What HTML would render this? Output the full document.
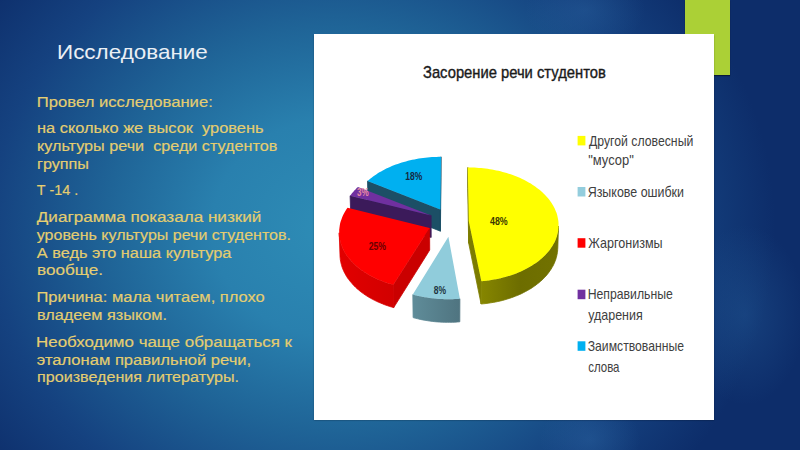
<!DOCTYPE html>
<html><head><meta charset="utf-8">
<style>
html,body{margin:0;padding:0;}
body{width:800px;height:450px;overflow:hidden;position:relative;
background:
 radial-gradient(ellipse 60px 90px at 745px 315px, rgba(40,100,160,0.35), rgba(40,100,160,0) 100%),
 radial-gradient(ellipse 50px 40px at 590px 440px, rgba(50,110,170,0.35), rgba(50,110,170,0) 100%),
 radial-gradient(ellipse 60px 40px at 585px 10px, rgba(50,110,170,0.3), rgba(50,110,170,0) 100%),
 radial-gradient(ellipse 440px 390px at 335px 228px, #2E8DB6 0%, #2980AE 28%, #1F6497 52%, #154280 78%, #0D2D6A 100%);}
.green{position:absolute;left:685px;top:0;width:45px;height:75px;background:#ABD036;box-shadow:0 1px 1px rgba(0,0,0,.45);}
.box{position:absolute;left:314px;top:34px;width:400px;height:385.5px;background:#fff;box-shadow:0 0.5px 1.5px rgba(0,0,0,.4);}
svg{position:absolute;left:0;top:0;}
text{font-family:"Liberation Sans",sans-serif;white-space:pre;}
.h{font-size:20.8px;fill:#EAEFF5;}
.b{font-size:14.9px;fill:#E6CF74;stroke:#DCC262;stroke-width:0.2px;}
.ti{font-size:17px;fill:#1A1A1A;stroke:#1A1A1A;stroke-width:0.4px;}
.lg{font-size:14.2px;fill:#404040;}
.pl{font-size:10.5px;font-weight:bold;}
</style></head><body>
<div class="green"></div>
<div class="box"></div>
<svg width="800" height="450" viewBox="0 0 800 450">
<defs>
<linearGradient id="g0" gradientUnits="userSpaceOnUse" x1="481" y1="0" x2="559" y2="0"><stop offset="0" stop-color="#868600"/><stop offset="0.5" stop-color="#6D6D00"/><stop offset="1" stop-color="#727200"/></linearGradient>
<linearGradient id="g1" gradientUnits="userSpaceOnUse" x1="413" y1="0" x2="460" y2="0"><stop offset="0" stop-color="#5F8C99"/><stop offset="1" stop-color="#4F7480"/></linearGradient>
<linearGradient id="g2" gradientUnits="userSpaceOnUse" x1="339" y1="0" x2="394" y2="0"><stop offset="0" stop-color="#E20000"/><stop offset="1" stop-color="#D20000"/></linearGradient>
<linearGradient id="g3" gradientUnits="userSpaceOnUse" x1="0" y1="0" x2="1" y2="0"><stop offset="0" stop-color="#3B1A5A"/></linearGradient>
<linearGradient id="g4" gradientUnits="userSpaceOnUse" x1="0" y1="0" x2="1" y2="0"><stop offset="0" stop-color="#1C4F66"/></linearGradient>
</defs>
<path d="M440.4,209.4 L367.5,181.1 L368.0,202.5 L440.4,231.2Z" fill="#1C4F66" stroke="#1C4F66" stroke-width="0.8" stroke-linejoin="round"/>
<path d="M440.4,209.4 L441.0,156.8 L441.0,177.8 L440.4,231.2Z" fill="#1C4F66" stroke="#1C4F66" stroke-width="0.8" stroke-linejoin="round"/>
<path d="M440.4,209.4 L367.5,181.1 L368.8,180.0 L370.2,178.8 L371.6,177.7 L373.1,176.5 L374.6,175.4 L376.2,174.4 L377.8,173.3 L379.4,172.3 L381.1,171.4 L382.8,170.4 L384.6,169.5 L386.3,168.6 L388.2,167.7 L390.0,166.9 L391.9,166.1 L393.8,165.3 L395.8,164.6 L397.7,163.9 L399.7,163.2 L401.8,162.5 L403.8,161.9 L405.9,161.4 L408.0,160.8 L410.1,160.3 L412.2,159.8 L414.4,159.4 L416.5,159.0 L418.7,158.6 L420.9,158.3 L423.1,158.0 L425.3,157.7 L427.5,157.5 L429.7,157.3 L432.0,157.1 L434.2,157.0 L436.5,156.9 L438.7,156.8 L441.0,156.8Z" fill="#00B0F0"/>
<path d="M431.1,215.5 L350.1,195.8 L350.8,217.3 L431.2,237.4Z" fill="#3B1A5A" stroke="#3B1A5A" stroke-width="0.8" stroke-linejoin="round"/>
<path d="M431.1,215.5 L350.1,195.8 L351.1,194.4 L352.1,193.1 L353.2,191.9 L354.3,190.6 L355.5,189.4 L356.7,188.1 L358.0,186.9Z" fill="#7030A0"/>
<path d="M468.8,221.2 L467.8,167.4 L467.7,188.6 L468.7,243.2Z" fill="#7C7C00" stroke="#7C7C00" stroke-width="0.8" stroke-linejoin="round"/>
<path d="M468.8,221.2 L481.4,281.2 L481.1,304.0 L468.7,243.2Z" fill="#7C7C00" stroke="#7C7C00" stroke-width="0.8" stroke-linejoin="round"/>
<path d="M558.5,226.0 L558.5,227.5 L558.3,229.0 L558.2,230.5 L557.9,232.0 L557.6,233.5 L557.2,235.0 L556.8,236.5 L556.3,238.0 L555.7,239.5 L555.1,240.9 L554.4,242.4 L553.6,243.8 L552.8,245.3 L551.9,246.7 L551.0,248.1 L550.0,249.5 L548.9,250.9 L547.8,252.2 L546.6,253.6 L545.3,254.9 L544.0,256.2 L542.7,257.5 L541.3,258.7 L539.8,260.0 L538.3,261.2 L536.7,262.4 L535.1,263.5 L533.4,264.6 L531.7,265.7 L529.9,266.8 L528.1,267.8 L526.2,268.8 L524.3,269.8 L522.3,270.8 L520.3,271.7 L518.3,272.5 L516.2,273.4 L514.1,274.2 L511.9,274.9 L509.7,275.7 L507.5,276.3 L505.2,277.0 L502.9,277.6 L500.6,278.2 L498.3,278.7 L495.9,279.2 L493.5,279.6 L491.1,280.0 L488.7,280.4 L486.3,280.7 L483.8,280.9 L481.4,281.2 L481.1,304.0 L483.6,303.8 L486.0,303.5 L488.4,303.2 L490.8,302.8 L493.2,302.4 L495.6,302.0 L497.9,301.5 L500.3,301.0 L502.6,300.4 L504.8,299.8 L507.1,299.1 L509.3,298.4 L511.4,297.7 L513.6,296.9 L515.7,296.1 L517.8,295.3 L519.8,294.4 L521.8,293.5 L523.7,292.5 L525.6,291.5 L527.5,290.5 L529.3,289.4 L531.1,288.4 L532.8,287.2 L534.5,286.1 L536.1,284.9 L537.6,283.7 L539.2,282.5 L540.6,281.3 L542.0,280.0 L543.4,278.7 L544.6,277.4 L545.9,276.0 L547.1,274.7 L548.2,273.3 L549.2,271.9 L550.2,270.5 L551.2,269.0 L552.0,267.6 L552.9,266.1 L553.6,264.7 L554.3,263.2 L554.9,261.7 L555.5,260.2 L556.0,258.7 L556.4,257.2 L556.8,255.7 L557.1,254.2 L557.4,252.6 L557.6,251.1 L557.7,249.6 L557.8,248.1Z" fill="url(#g0)" stroke="url(#g0)" stroke-width="0.8" stroke-linejoin="round"/>
<path d="M468.8,221.2 L467.8,167.4 L470.1,167.4 L472.3,167.5 L474.5,167.6 L476.7,167.7 L478.9,167.9 L481.1,168.0 L483.3,168.3 L485.5,168.5 L487.7,168.8 L489.9,169.2 L492.0,169.5 L494.2,169.9 L496.3,170.4 L498.4,170.8 L500.5,171.3 L502.6,171.9 L504.7,172.4 L506.7,173.0 L508.7,173.7 L510.7,174.3 L512.7,175.0 L514.6,175.7 L516.6,176.5 L518.4,177.3 L520.3,178.1 L522.1,179.0 L523.9,179.8 L525.7,180.7 L527.4,181.7 L529.1,182.7 L530.8,183.6 L532.4,184.7 L534.0,185.7 L535.5,186.8 L537.0,187.9 L538.4,189.0 L539.9,190.1 L541.2,191.3 L542.6,192.5 L543.8,193.7 L545.1,195.0 L546.2,196.2 L547.4,197.5 L548.5,198.8 L549.5,200.1 L550.5,201.4 L551.4,202.8 L552.3,204.2 L553.1,205.5 L553.9,206.9 L554.6,208.3 L555.2,209.8 L555.8,211.2 L556.4,212.6 L556.9,214.1 L557.3,215.6 L557.6,217.0 L557.9,218.5 L558.2,220.0 L558.4,221.5 L558.5,223.0 L558.5,224.5 L558.5,226.0 L558.5,227.5 L558.3,229.0 L558.2,230.5 L557.9,232.0 L557.6,233.5 L557.2,235.0 L556.8,236.5 L556.3,238.0 L555.7,239.5 L555.1,240.9 L554.4,242.4 L553.6,243.8 L552.8,245.3 L551.9,246.7 L551.0,248.1 L550.0,249.5 L548.9,250.9 L547.8,252.2 L546.6,253.6 L545.3,254.9 L544.0,256.2 L542.7,257.5 L541.3,258.7 L539.8,260.0 L538.3,261.2 L536.7,262.4 L535.1,263.5 L533.4,264.6 L531.7,265.7 L529.9,266.8 L528.1,267.8 L526.2,268.8 L524.3,269.8 L522.3,270.8 L520.3,271.7 L518.3,272.5 L516.2,273.4 L514.1,274.2 L511.9,274.9 L509.7,275.7 L507.5,276.3 L505.2,277.0 L502.9,277.6 L500.6,278.2 L498.3,278.7 L495.9,279.2 L493.5,279.6 L491.1,280.0 L488.7,280.4 L486.3,280.7 L483.8,280.9 L481.4,281.2Z" fill="#FFFF00"/>
<path d="M429.6,228.0 L393.3,284.7 L393.7,307.6 L429.7,250.1Z" fill="#CA0000" stroke="#CA0000" stroke-width="0.8" stroke-linejoin="round"/>
<path d="M393.3,284.7 L391.0,284.1 L388.7,283.4 L386.5,282.7 L384.3,281.9 L382.1,281.1 L380.0,280.2 L377.9,279.4 L375.9,278.5 L373.9,277.5 L371.9,276.5 L370.0,275.5 L368.2,274.4 L366.4,273.3 L364.6,272.2 L362.9,271.1 L361.2,269.9 L359.6,268.7 L358.1,267.5 L356.6,266.2 L355.2,264.9 L353.8,263.6 L352.5,262.3 L351.2,261.0 L350.0,259.6 L348.9,258.2 L347.8,256.8 L346.8,255.4 L345.8,253.9 L344.9,252.5 L344.1,251.0 L343.3,249.5 L342.6,248.1 L342.0,246.6 L341.4,245.0 L340.9,243.5 L340.5,242.0 L340.1,240.5 L339.8,239.0 L339.5,237.4 L339.3,235.9 L339.2,234.3 L339.2,232.8 L340.0,255.0 L340.0,256.5 L340.2,258.1 L340.3,259.6 L340.6,261.2 L340.9,262.7 L341.3,264.3 L341.7,265.8 L342.2,267.4 L342.8,268.9 L343.4,270.4 L344.1,271.9 L344.9,273.4 L345.7,274.9 L346.6,276.4 L347.5,277.9 L348.6,279.3 L349.6,280.7 L350.8,282.1 L352.0,283.5 L353.2,284.9 L354.5,286.2 L355.9,287.6 L357.3,288.9 L358.8,290.1 L360.3,291.4 L361.9,292.6 L363.6,293.8 L365.3,295.0 L367.0,296.1 L368.8,297.2 L370.7,298.3 L372.5,299.3 L374.5,300.3 L376.5,301.3 L378.5,302.2 L380.6,303.1 L382.7,303.9 L384.8,304.8 L387.0,305.5 L389.2,306.3 L391.5,307.0 L393.7,307.6Z" fill="url(#g2)" stroke="url(#g2)" stroke-width="0.8" stroke-linejoin="round"/>
<path d="M429.6,228.0 L393.3,284.7 L391.0,284.1 L388.7,283.4 L386.5,282.7 L384.3,281.9 L382.1,281.1 L380.0,280.2 L377.9,279.4 L375.9,278.5 L373.9,277.5 L371.9,276.5 L370.0,275.5 L368.2,274.4 L366.4,273.3 L364.6,272.2 L362.9,271.1 L361.2,269.9 L359.6,268.7 L358.1,267.5 L356.6,266.2 L355.2,264.9 L353.8,263.6 L352.5,262.3 L351.2,261.0 L350.0,259.6 L348.9,258.2 L347.8,256.8 L346.8,255.4 L345.8,253.9 L344.9,252.5 L344.1,251.0 L343.3,249.5 L342.6,248.1 L342.0,246.6 L341.4,245.0 L340.9,243.5 L340.5,242.0 L340.1,240.5 L339.8,239.0 L339.5,237.4 L339.3,235.9 L339.2,234.3 L339.2,232.8 L339.2,231.3 L339.2,229.7 L339.4,228.2 L339.6,226.7 L339.8,225.2 L340.1,223.6 L340.5,222.1 L341.0,220.6 L341.5,219.2 L342.0,217.7 L342.6,216.2 L343.3,214.8 L344.1,213.3 L344.8,211.9 L345.7,210.5 L346.6,209.1 L347.6,207.7Z" fill="#FF0000"/>
<path d="M459.9,298.7 L457.4,298.9 L454.9,299.1 L452.3,299.2 L449.8,299.2 L447.3,299.2 L444.7,299.2 L442.2,299.1 L439.7,299.0 L437.2,298.8 L434.7,298.6 L432.2,298.3 L429.7,298.0 L427.2,297.6 L424.8,297.2 L422.3,296.8 L419.9,296.3 L417.5,295.8 L415.2,295.2 L412.8,294.6 L413.1,317.6 L415.5,318.3 L417.8,318.8 L420.2,319.4 L422.6,319.9 L425.0,320.3 L427.4,320.7 L429.9,321.1 L432.3,321.4 L434.8,321.7 L437.3,321.9 L439.8,322.1 L442.3,322.2 L444.8,322.3 L447.3,322.3 L449.8,322.3 L452.3,322.3 L454.8,322.2 L457.3,322.0 L459.8,321.8Z" fill="url(#g1)" stroke="url(#g1)" stroke-width="0.8" stroke-linejoin="round"/>
<path d="M448.4,236.8 L459.9,298.7 L457.4,298.9 L454.9,299.1 L452.3,299.2 L449.8,299.2 L447.3,299.2 L444.7,299.2 L442.2,299.1 L439.7,299.0 L437.2,298.8 L434.7,298.6 L432.2,298.3 L429.7,298.0 L427.2,297.6 L424.8,297.2 L422.3,296.8 L419.9,296.3 L417.5,295.8 L415.2,295.2 L412.8,294.6Z" fill="#90CCDB"/>

<text class="pl" x="490" y="225" textLength="17.7" lengthAdjust="spacingAndGlyphs" style="fill:#3C3A00">48%</text>
<text class="pl" x="433.7" y="294" textLength="12.3" lengthAdjust="spacingAndGlyphs" style="fill:#1E3440">8%</text>
<text class="pl" x="368.7" y="249.7" textLength="17.3" lengthAdjust="spacingAndGlyphs" style="fill:#6A0000">25%</text>
<text class="pl" x="357" y="196" textLength="11.7" lengthAdjust="spacingAndGlyphs" style="fill:#E88AA0">3%</text>
<text class="pl" x="405.3" y="180.3" textLength="17" lengthAdjust="spacingAndGlyphs" style="fill:#16283E">18%</text>
<rect x="577.6" y="135.9" width="7.8" height="9.5" fill="#FFFF00"/>
<rect x="577.6" y="187.0" width="7.8" height="9.5" fill="#93CDDD"/>
<rect x="577.6" y="238.2" width="7.8" height="9.5" fill="#FF0000"/>
<rect x="577.6" y="289.7" width="7.8" height="9.5" fill="#7030A0"/>
<rect x="577.6" y="341.3" width="7.8" height="9.5" fill="#00B0F0"/>
<text class="h" x="57.0" y="59.0" textLength="150.8" lengthAdjust="spacingAndGlyphs">Исследование</text>
<text class="b" x="36.8" y="106.5" textLength="176.0" lengthAdjust="spacingAndGlyphs">Провел исследование:</text>
<text class="b" x="37.0" y="133.0" textLength="226.5" lengthAdjust="spacingAndGlyphs">на сколько же высок  уровень</text>
<text class="b" x="37.0" y="150.7" textLength="240.3" lengthAdjust="spacingAndGlyphs">культуры речи  среди студентов</text>
<text class="b" x="37.0" y="168.8" textLength="52.0" lengthAdjust="spacingAndGlyphs">группы</text>
<text class="b" x="36.7" y="195.2" textLength="41.6" lengthAdjust="spacingAndGlyphs">Т -14 .</text>
<text class="b" x="36.8" y="221.6" textLength="224.5" lengthAdjust="spacingAndGlyphs">Диаграмма показала низкий</text>
<text class="b" x="36.8" y="239.5" textLength="254.1" lengthAdjust="spacingAndGlyphs">уровень культуры речи студентов.</text>
<text class="b" x="36.8" y="257.5" textLength="194.5" lengthAdjust="spacingAndGlyphs">А ведь это наша культура</text>
<text class="b" x="37.0" y="275.4" textLength="66.0" lengthAdjust="spacingAndGlyphs">вообще.</text>
<text class="b" x="36.4" y="302.1" textLength="228.4" lengthAdjust="spacingAndGlyphs">Причина: мала читаем, плохо</text>
<text class="b" x="37.0" y="319.9" textLength="130.0" lengthAdjust="spacingAndGlyphs">владеем языком.</text>
<text class="b" x="36.0" y="346.7" textLength="256.0" lengthAdjust="spacingAndGlyphs">Необходимо чаще обращаться к</text>
<text class="b" x="36.8" y="364.5" textLength="214.4" lengthAdjust="spacingAndGlyphs">эталонам правильной речи,</text>
<text class="b" x="37.0" y="382.4" textLength="202.1" lengthAdjust="spacingAndGlyphs">произведения литературы.</text>
<text class="ti" x="423.0" y="78.1" textLength="182.8" lengthAdjust="spacingAndGlyphs">Засорение речи студентов</text>
<text class="lg" x="588.9" y="145.5" textLength="104.4" lengthAdjust="spacingAndGlyphs">Другой словесный</text>
<text class="lg" x="588.2" y="164.6" textLength="45.6" lengthAdjust="spacingAndGlyphs">&quot;мусор&quot;</text>
<text class="lg" x="587.7" y="196.7" textLength="96.3" lengthAdjust="spacingAndGlyphs">Языкове ошибки</text>
<text class="lg" x="588.2" y="247.8" textLength="74.4" lengthAdjust="spacingAndGlyphs">Жаргонизмы</text>
<text class="lg" x="587.7" y="299.3" textLength="85.1" lengthAdjust="spacingAndGlyphs">Неправильные</text>
<text class="lg" x="588.2" y="320.0" textLength="54.5" lengthAdjust="spacingAndGlyphs">ударения</text>
<text class="lg" x="587.7" y="350.8" textLength="96.3" lengthAdjust="spacingAndGlyphs">Заимствованные</text>
<text class="lg" x="588.2" y="371.6" textLength="31.3" lengthAdjust="spacingAndGlyphs">слова</text>
</svg>
</body></html>
